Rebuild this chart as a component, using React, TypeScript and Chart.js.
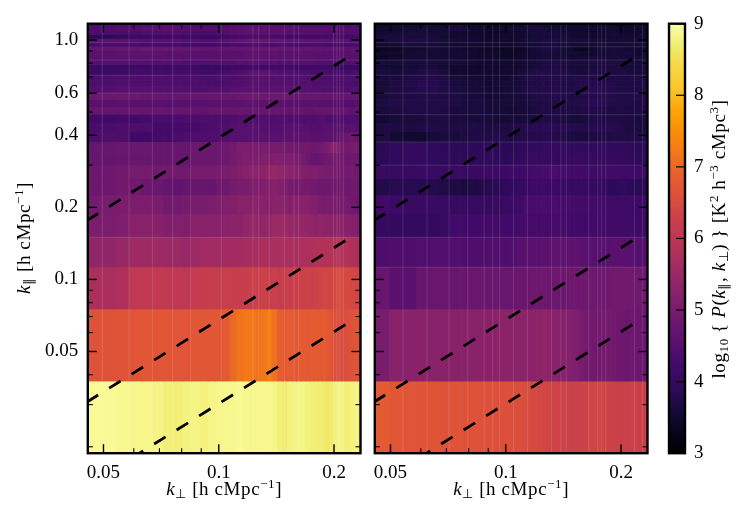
import { useEffect, useRef } from "react";
import { Chart, registerables } from "chart.js";

Chart.register(...registerables);

const SERIF = '"Liberation Serif", serif';

// bin edges
const kPerpEdges = [
  0.0452, 0.0496, 0.054, 0.0584, 0.0628, 0.0672, 0.0716, 0.076, 0.0804, 0.0848, 0.0892,
  0.0936, 0.098, 0.1024, 0.1068, 0.1112, 0.1156, 0.12, 0.1244, 0.1288, 0.1332, 0.1376,
  0.142, 0.1464, 0.1508, 0.1552, 0.1596, 0.164, 0.1684, 0.1728, 0.1772, 0.1816, 0.186,
  0.1904, 0.1948, 0.1992, 0.2036, 0.208, 0.2124, 0.2168, 0.2212, 0.2256, 0.23, 0.2344,
];
const kParEdges = [
  0.01875, 0.0375, 0.075, 0.1125, 0.15, 0.1875, 0.225, 0.2625, 0.3, 0.3375, 0.375, 0.4125,
  0.45, 0.4875, 0.525, 0.5625, 0.6, 0.6375, 0.675, 0.7125, 0.75, 0.7875, 0.825, 0.8625,
  0.9, 0.9375, 0.975, 1.0125, 1.05, 1.0875, 1.125, 1.2,
];

// faint mesh seams that show in each panel
const seamsPerpLeft = [0.0496, 0.0583, 0.0671, 0.0758, 0.0845, 0.1015, 0.1228, 0.1272, 0.1354, 0.1484, 0.1572, 0.1617, 0.1994, 0.2035, 0.2072, 0.2115];
const seamsPerpRight = [0.0539, 0.0623, 0.0711, 0.0796, 0.0878, 0.0925, 0.0964, 0.1048, 0.1139, 0.1317, 0.1392, 0.1439, 0.1648, 0.1739, 0.178, 0.1824, 0.2168, 0.2277];
const seamsParLeft = [0.975, 0.825, 0.7125, 0.6, 0.15];
const seamsParRight = [0.975, 0.9375, 0.825, 0.7125, 0.6, 0.4875, 0.375, 0.3, 0.15, 0.1125];

// log10 power, bottom row first
const powerLeft = [
  [8.92,8.92,8.89,8.87,8.85,8.82,8.75,8.73,8.79,8.81,8.77,8.83,8.85,8.87,8.89,8.91,8.89,8.87,8.87,8.89,8.85,8.83,8.75,8.69,8.77,8.79,8.83,8.81,8.79,8.75,8.71,8.73,8.67,8.63,8.69,8.77,8.81,8.79,8.75,8.73,8.79,8.83,8.81],
  [6.62,6.62,6.65,6.68,6.7,6.72,6.7,6.68,6.68,6.72,6.72,6.72,6.74,6.78,7.0,7.15,7.22,7.2,7.12,7.22,7.25,7.1,6.85,6.8,6.78,6.75,6.78,6.78,6.76,6.78,6.8,6.8,6.82,6.74,6.66,6.58,6.52,6.5,6.55,6.58,6.62,6.65,6.68],
  [5.75,5.75,5.8,6.05,6.1,6.1,6.05,6.02,6.02,6.15,6.18,6.2,6.2,6.22,6.22,6.2,6.22,6.25,6.28,6.3,6.25,6.22,6.18,6.2,6.22,6.25,6.28,6.3,6.32,6.3,6.32,6.35,6.38,6.4,6.4,6.45,6.5,6.5,6.45,6.45,6.42,6.4,6.38],
  [5.35,5.35,5.45,5.55,5.55,5.55,5.52,5.5,5.45,5.55,5.6,5.6,5.6,5.62,5.62,5.62,5.65,5.68,5.7,5.75,5.72,5.72,5.72,5.72,5.72,5.74,5.75,5.78,5.78,5.8,5.82,5.85,5.85,5.88,5.88,5.9,5.88,5.85,5.85,5.82,5.8,5.78,5.75],
  [5.05,5.05,5.1,5.2,5.2,5.2,5.15,5.12,5.15,5.2,5.2,5.22,5.22,5.25,5.28,5.3,5.35,5.42,5.4,5.35,5.42,5.5,5.52,5.5,5.42,5.4,5.42,5.44,5.4,5.35,5.3,5.35,5.32,5.32,5.3,5.3,5.28,5.25,5.2,5.2,5.18,5.18,5.15],
  [4.95,5,5.05,5.05,5.05,5.02,4.9,4.9,4.95,5,5,5.05,5.1,5.15,5.15,5.2,5.2,5.22,5.25,5.2,5.22,5.25,5.25,5.22,5.18,5.22,5.25,5.25,5.2,5.15,5.1,5,4.98,5,5.02,5,4.95,4.95,4.95,4.92,4.9,4.85,4.82],
  [4.85,4.85,4.9,4.9,4.85,4.82,4.7,4.65,4.7,4.75,4.75,4.7,4.85,4.85,4.95,5,5,5.05,5.1,5.1,5.15,5.2,5.15,5.05,4.95,4.9,4.95,4.95,4.95,4.9,4.9,4.85,4.85,4.85,4.9,4.85,4.85,4.9,4.85,4.85,4.9,4.9,4.85],
  [4.85,4.85,4.9,4.95,4.95,4.9,4.9,4.9,4.9,4.95,4.95,4.95,5,5,5.05,5.15,5.2,5.25,5.25,5.3,5.4,5.42,5.35,5.3,5.25,5.2,5.2,5.15,5.1,5.1,5.1,5.05,5,5,5,4.95,4.95,4.9,4.9,4.9,4.95,4.9,4.9],
  [4.7,4.7,4.75,4.75,4.75,4.75,4.75,4.75,4.75,4.8,4.8,4.8,4.8,4.85,4.95,5.05,5.1,5.05,5.05,5.1,5.1,5.1,5.1,5.05,5.1,5.05,5,4.95,4.85,4.75,4.7,4.75,4.85,4.9,4.9,4.95,4.95,4.9,4.85,4.85,4.85,4.85,4.8],
  [4.75,4.75,4.8,4.8,4.8,4.75,4.75,4.75,4.75,4.8,4.8,4.8,4.8,4.85,4.9,5.05,5.05,5,5,5,5,5,4.95,4.95,4.9,4.9,4.9,4.9,4.9,4.85,4.85,4.9,4.95,5.05,5.25,5.3,5.1,4.95,4.9,4.9,4.95,5,4.95],
  [4.35,4.35,4.35,4.15,4.15,4.25,4.25,4.3,4.35,4.35,4.4,4.4,4.4,4.45,4.5,4.5,4.5,4.5,4.55,4.55,4.5,4.5,4.5,4.55,4.55,4.6,4.6,4.6,4.6,4.55,4.55,4.55,4.55,4.55,4.6,4.6,4.65,4.7,4.75,4.8,4.85,4.75,4.7],
  [4.3,4.3,4.35,4.35,4.35,4.25,4.25,4.25,4.25,4.25,4.3,4.35,4.4,4.4,4.45,4.5,4.5,4.5,4.5,4.45,4.45,4.45,4.45,4.5,4.5,4.5,4.5,4.5,4.5,4.45,4.45,4.45,4.5,4.5,4.5,4.5,4.55,4.55,4.5,4.5,4.5,4.5,4.45],
  [4.2,4.2,4.25,4.2,4.25,4.3,4.3,4.3,4.35,4.3,4.35,4.35,4.3,4.35,4.4,4.45,4.45,4.4,4.4,4.4,4.35,4.35,4.4,4.4,4.4,4.4,4.4,4.4,4.4,4.4,4.4,4.45,4.45,4.4,4.4,4.4,4.45,4.4,4.4,4.4,4.4,4.4,4.4],
  [4.7,4.7,4.7,4.75,4.7,4.75,4.7,4.7,4.7,4.65,4.65,4.7,4.7,4.7,4.7,4.75,4.75,4.7,4.7,4.7,4.75,4.7,4.7,4.7,4.65,4.7,4.7,4.7,4.65,4.65,4.7,4.7,4.7,4.7,4.7,4.7,4.65,4.65,4.7,4.65,4.6,4.65,4.6],
  [4.5,4.5,4.55,4.5,4.5,4.55,4.5,4.5,4.5,4.5,4.5,4.5,4.5,4.55,4.55,4.55,4.6,4.6,4.55,4.55,4.6,4.55,4.55,4.55,4.55,4.55,4.55,4.5,4.55,4.55,4.55,4.5,4.5,4.5,4.5,4.5,4.5,4.5,4.45,4.45,4.45,4.5,4.5],
  [4.8,4.8,4.8,4.8,4.75,4.75,4.7,4.7,4.7,4.7,4.7,4.75,4.75,4.75,4.75,4.8,4.85,4.85,4.85,4.85,4.8,4.8,4.85,4.85,4.8,4.75,4.75,4.75,4.75,4.75,4.7,4.7,4.7,4.7,4.7,4.7,4.65,4.65,4.7,4.7,4.7,4.7,4.7],
  [4.45,4.45,4.5,4.5,4.5,4.45,4.45,4.45,4.45,4.4,4.4,4.45,4.45,4.45,4.5,4.55,4.55,4.55,4.55,4.6,4.55,4.55,4.55,4.55,4.55,4.5,4.5,4.5,4.5,4.45,4.45,4.45,4.4,4.4,4.45,4.45,4.45,4.4,4.4,4.4,4.45,4.45,4.4],
  [4.35,4.35,4.4,4.4,4.4,4.4,4.4,4.4,4.35,4.35,4.35,4.3,4.3,4.35,4.4,4.4,4.45,4.5,4.5,4.5,4.5,4.5,4.5,4.45,4.45,4.45,4.45,4.45,4.45,4.45,4.4,4.4,4.4,4.4,4.4,4.35,4.3,4.3,4.35,4.35,4.35,4.3,4.35],
  [4.35,4.35,4.35,4.4,4.4,4.4,4.35,4.35,4.35,4.35,4.3,4.3,4.35,4.35,4.35,4.4,4.45,4.45,4.5,4.5,4.5,4.45,4.45,4.45,4.45,4.45,4.45,4.45,4.4,4.4,4.4,4.35,4.35,4.35,4.35,4.4,4.4,4.35,4.35,4.35,4.35,4.4,4.35],
  [4.1,4.1,4.15,4.25,4.25,4.25,4.2,4.25,4.25,4.25,4.2,4.2,4.25,4.25,4.3,4.35,4.4,4.5,4.6,4.6,4.55,4.45,4.4,4.4,4.4,4.4,4.35,4.35,4.35,4.3,4.3,4.3,4.35,4.3,4.3,4.3,4.3,4.3,4.25,4.25,4.3,4.3,4.25],
  [4.05,4.0,4.0,4.1,4.1,4.1,4.1,4.15,4.15,4.1,4.0,4.0,4.0,4.05,4.1,4.1,4.15,4.2,4.2,4.2,4.2,4.2,4.2,4.2,4.2,4.15,4.15,4.15,4.15,4.15,4.15,4.15,4.15,4.15,4.1,4.1,4.1,4.05,4.05,4.05,4.05,4.05,4.05],
  [4.45,4.45,4.45,4.45,4.45,4.45,4.45,4.45,4.4,4.4,4.4,4.4,4.45,4.45,4.45,4.5,4.5,4.5,4.5,4.5,4.5,4.5,4.45,4.45,4.45,4.5,4.5,4.5,4.5,4.5,4.45,4.45,4.45,4.45,4.45,4.45,4.45,4.4,4.4,4.4,4.45,4.45,4.45],
  [4.55,4.55,4.55,4.55,4.55,4.55,4.5,4.5,4.5,4.5,4.5,4.5,4.5,4.5,4.55,4.55,4.6,4.6,4.6,4.6,4.55,4.55,4.55,4.55,4.55,4.55,4.55,4.55,4.55,4.5,4.5,4.5,4.5,4.5,4.5,4.55,4.55,4.55,4.5,4.5,4.5,4.5,4.5],
  [4.55,4.55,4.6,4.6,4.6,4.6,4.55,4.55,4.55,4.55,4.5,4.5,4.55,4.55,4.55,4.55,4.6,4.6,4.6,4.6,4.6,4.6,4.55,4.55,4.55,4.55,4.6,4.6,4.55,4.55,4.55,4.55,4.5,4.5,4.5,4.5,4.5,4.5,4.55,4.55,4.55,4.5,4.5],
  [4.7,4.7,4.75,4.75,4.8,4.75,4.75,4.75,4.7,4.7,4.65,4.65,4.65,4.65,4.7,4.7,4.7,4.7,4.7,4.75,4.7,4.7,4.7,4.7,4.7,4.7,4.7,4.65,4.65,4.65,4.65,4.65,4.6,4.6,4.6,4.65,4.65,4.65,4.6,4.6,4.65,4.6,4.6],
  [4.3,4.3,4.3,4.3,4.25,4.25,4.25,4.25,4.2,4.2,4.2,4.2,4.25,4.25,4.3,4.3,4.35,4.35,4.35,4.3,4.3,4.3,4.35,4.35,4.3,4.3,4.3,4.3,4.3,4.3,4.3,4.3,4.3,4.25,4.25,4.25,4.25,4.25,4.25,4.3,4.3,4.3,4.3],
  [4.55,4.55,4.55,4.55,4.5,4.5,4.5,4.5,4.45,4.45,4.45,4.45,4.5,4.55,4.6,4.65,4.75,4.8,4.8,4.75,4.7,4.7,4.7,4.65,4.65,4.65,4.65,4.65,4.6,4.6,4.6,4.6,4.6,4.6,4.6,4.6,4.55,4.55,4.55,4.5,4.5,4.5,4.55],
  [3.85,3.85,3.95,4.05,4.1,4.1,4.15,4.15,4.1,4.1,4.05,4.05,4.1,4.15,4.2,4.25,4.3,4.3,4.3,4.3,4.3,4.25,4.25,4.25,4.2,4.2,4.2,4.2,4.2,4.2,4.2,4.2,4.2,4.2,4.25,4.25,4.25,4.2,4.2,4.2,4.2,4.25,4.25],
  [4.35,4.3,4.3,4.3,4.35,4.35,4.4,4.4,4.35,4.3,4.3,4.3,4.35,4.4,4.45,4.5,4.55,4.55,4.55,4.55,4.5,4.5,4.5,4.5,4.45,4.45,4.45,4.45,4.45,4.45,4.45,4.45,4.45,4.4,4.4,4.4,4.4,4.4,4.4,4.4,4.4,4.4,4.4],
  [4.4,4.4,4.45,4.45,4.5,4.5,4.55,4.5,4.5,4.45,4.45,4.45,4.45,4.45,4.5,4.55,4.6,4.6,4.6,4.6,4.55,4.55,4.55,4.55,4.55,4.5,4.5,4.5,4.5,4.5,4.45,4.5,4.5,4.5,4.5,4.45,4.45,4.45,4.45,4.45,4.45,4.45,4.45],
  [4.35,4.35,4.4,4.4,4.45,4.45,4.5,4.5,4.45,4.4,4.4,4.4,4.4,4.4,4.45,4.5,4.5,4.55,4.55,4.55,4.5,4.5,4.5,4.45,4.45,4.45,4.45,4.4,4.4,4.4,4.4,4.4,4.4,4.4,4.4,4.4,4.4,4.35,4.35,4.35,4.4,4.4,4.4],
];
const powerRight = [
  [6.78,6.72,6.68,6.66,6.66,6.64,6.66,6.62,6.62,6.6,6.6,6.58,6.58,6.56,6.54,6.52,6.48,6.44,6.4,6.36,6.34,6.32,6.3,6.3,6.3,6.32,6.34,6.36,6.38,6.38,6.36,6.34,6.32,6.3,6.28,6.26,6.26,6.28,6.3,6.3,6.28,6.26,6.24],
  [5,5.22,5.24,5.26,5.24,5.22,5.22,5.24,5.24,5.26,5.26,5.28,5.28,5.28,5.28,5.28,5.3,5.32,5.34,5.3,5.26,5.2,5.16,5.12,5.08,5.02,4.96,4.92,4.9,4.9,4.92,4.94,4.96,4.9,4.86,4.84,4.82,4.82,4.84,4.84,4.82,4.8,4.8],
  [4.75,4.55,4.55,4.75,4.78,4.78,4.76,4.78,4.78,4.8,4.78,4.78,4.78,4.78,4.8,4.82,4.84,4.84,4.84,4.84,4.82,4.82,4.82,4.84,4.84,4.86,4.86,4.86,4.86,4.84,4.84,4.86,4.88,4.88,4.9,4.9,4.9,4.88,4.86,4.86,4.86,4.84,4.84],
  [4.35,4.4,4.4,4.42,4.42,4.42,4.42,4.4,4.38,4.4,4.42,4.42,4.4,4.42,4.5,4.55,4.55,4.55,4.55,4.58,4.6,4.6,4.58,4.58,4.58,4.55,4.55,4.55,4.52,4.52,4.5,4.52,4.55,4.55,4.55,4.55,4.52,4.52,4.5,4.48,4.46,4.45,4.45],
  [3.98,3.98,3.98,3.98,3.98,4.0,4.2,4.2,4.2,4.22,4.22,4.22,4.2,4.2,4.22,4.25,4.25,4.25,4.25,4.25,4.25,4.25,4.22,4.2,4.2,4.2,4.2,4.2,4.22,4.22,4.2,4.18,4.18,4.18,4.18,4.15,4.15,4.15,4.15,4.15,4.12,4.12,4.12],
  [4.2,4.1,4.05,4.05,4.05,4.05,4.0,4.0,4.0,4.0,4.0,4.05,4.05,4.1,4.15,4.28,4.3,4.3,4.3,4.3,4.28,4.25,4.25,4.25,4.22,4.22,4.22,4.2,4.2,4.2,4.2,4.18,4.15,4.15,4.15,4.15,4.15,4.15,4.15,4.12,4.1,4.1,4.1],
  [3.75,3.8,3.8,3.8,3.78,3.72,3.68,3.65,3.68,3.75,3.8,3.85,3.9,3.95,4.0,4.05,4.1,4.12,4.12,4.1,4.08,4.05,4.02,4.0,4.0,4.0,4.02,4.02,4.0,3.98,3.95,3.9,3.88,3.88,3.9,3.92,3.92,3.88,3.85,3.85,3.85,3.85,3.85],
  [4.0,4.0,4.02,4.05,4.05,4.05,4.05,4.05,4.05,4.1,4.1,4.1,4.1,4.12,4.15,4.2,4.22,4.22,4.25,4.28,4.28,4.25,4.22,4.2,4.2,4.18,4.18,4.15,4.15,4.15,4.15,4.18,4.18,4.18,4.18,4.15,4.15,4.12,4.12,4.1,4.1,4.1,4.1],
  [3.88,3.95,3.98,3.98,3.92,3.9,3.9,3.9,3.9,3.9,3.92,3.92,3.88,3.9,3.95,4.0,4.0,4.02,4.02,4.0,3.98,3.98,4.0,4.02,4.02,4.0,4.0,4.0,4.0,3.98,4.0,4.0,4.0,3.98,3.98,3.98,3.95,3.95,3.95,3.92,3.9,3.9,3.9],
  [3.85,3.95,3.98,3.98,3.9,3.88,3.88,3.88,3.88,3.9,3.9,3.88,3.85,3.85,3.9,3.95,3.95,3.95,4.0,4.0,4.0,3.98,3.95,3.95,3.95,3.95,3.95,3.95,3.98,3.95,3.92,3.92,3.92,3.92,3.92,3.92,3.9,3.9,3.88,3.88,3.85,3.85,3.85],
  [3.68,3.55,3.52,3.5,3.62,3.65,3.65,3.68,3.7,3.72,3.72,3.75,3.72,3.7,3.72,3.75,3.75,3.75,3.78,3.78,3.75,3.72,3.7,3.68,3.65,3.65,3.65,3.68,3.7,3.7,3.72,3.72,3.72,3.75,3.75,3.72,3.72,3.72,3.72,3.7,3.7,3.7,3.7],
  [3.68,3.68,3.7,3.72,3.72,3.7,3.7,3.7,3.72,3.7,3.68,3.68,3.68,3.72,3.75,3.8,3.82,3.82,3.85,3.85,3.82,3.82,3.8,3.78,3.75,3.75,3.75,3.78,3.82,3.82,3.82,3.82,3.8,3.78,3.75,3.72,3.7,3.7,3.7,3.68,3.65,3.65,3.65],
  [3.55,3.6,3.62,3.65,3.68,3.7,3.65,3.62,3.62,3.6,3.6,3.55,3.58,3.62,3.62,3.6,3.65,3.7,3.72,3.72,3.7,3.68,3.65,3.6,3.6,3.62,3.65,3.7,3.72,3.72,3.7,3.72,3.72,3.72,3.72,3.7,3.68,3.68,3.68,3.65,3.65,3.65,3.65],
  [3.65,3.68,3.72,3.72,3.72,3.68,3.65,3.65,3.65,3.65,3.62,3.6,3.58,3.55,3.6,3.62,3.65,3.68,3.72,3.72,3.7,3.7,3.7,3.7,3.7,3.72,3.75,3.75,3.75,3.72,3.72,3.7,3.7,3.7,3.72,3.72,3.7,3.7,3.7,3.7,3.7,3.7,3.68],
  [3.7,3.72,3.75,3.75,3.72,3.72,3.68,3.65,3.65,3.65,3.62,3.6,3.6,3.62,3.62,3.65,3.68,3.7,3.72,3.75,3.75,3.75,3.72,3.72,3.72,3.75,3.78,3.8,3.82,3.82,3.8,3.78,3.75,3.75,3.72,3.72,3.72,3.72,3.7,3.7,3.7,3.72,3.72],
  [3.65,3.68,3.72,3.72,3.72,3.7,3.7,3.65,3.62,3.6,3.55,3.55,3.58,3.6,3.62,3.65,3.7,3.72,3.72,3.75,3.75,3.72,3.72,3.7,3.7,3.72,3.75,3.78,3.78,3.78,3.78,3.75,3.75,3.72,3.72,3.72,3.72,3.72,3.72,3.72,3.72,3.72,3.7],
  [3.62,3.68,3.72,3.78,3.78,3.72,3.65,3.62,3.6,3.58,3.55,3.55,3.58,3.62,3.65,3.7,3.72,3.72,3.75,3.78,3.78,3.75,3.72,3.72,3.72,3.75,3.78,3.8,3.8,3.8,3.78,3.78,3.78,3.75,3.75,3.72,3.72,3.72,3.7,3.7,3.7,3.7,3.7],
  [3.62,3.68,3.75,3.82,3.82,3.72,3.65,3.62,3.6,3.58,3.55,3.58,3.6,3.62,3.65,3.7,3.72,3.72,3.75,3.75,3.75,3.72,3.7,3.7,3.72,3.75,3.78,3.78,3.78,3.78,3.75,3.75,3.75,3.75,3.72,3.72,3.7,3.7,3.7,3.7,3.7,3.7,3.7],
  [3.6,3.65,3.7,3.75,3.75,3.68,3.6,3.58,3.55,3.55,3.5,3.5,3.52,3.58,3.62,3.68,3.72,3.72,3.72,3.75,3.75,3.72,3.7,3.7,3.72,3.72,3.75,3.75,3.75,3.75,3.72,3.72,3.72,3.72,3.72,3.72,3.7,3.7,3.7,3.68,3.68,3.68,3.68],
  [3.65,3.62,3.65,3.7,3.72,3.65,3.5,3.5,3.52,3.5,3.5,3.5,3.5,3.52,3.6,3.65,3.72,3.75,3.72,3.72,3.72,3.72,3.7,3.65,3.62,3.62,3.65,3.68,3.7,3.72,3.75,3.72,3.7,3.7,3.7,3.7,3.68,3.65,3.65,3.62,3.62,3.62,3.62],
  [3.55,3.55,3.6,3.6,3.6,3.55,3.5,3.48,3.48,3.48,3.5,3.5,3.48,3.52,3.55,3.6,3.65,3.65,3.68,3.7,3.7,3.68,3.65,3.62,3.6,3.6,3.6,3.62,3.65,3.68,3.68,3.68,3.68,3.68,3.65,3.65,3.62,3.6,3.6,3.58,3.58,3.58,3.58],
  [3.6,3.6,3.62,3.65,3.65,3.6,3.58,3.58,3.55,3.52,3.52,3.5,3.5,3.52,3.55,3.58,3.62,3.65,3.68,3.7,3.7,3.68,3.65,3.65,3.62,3.62,3.65,3.68,3.7,3.7,3.7,3.7,3.68,3.68,3.68,3.68,3.65,3.65,3.62,3.62,3.62,3.62,3.62],
  [3.42,3.45,3.55,3.58,3.58,3.55,3.55,3.52,3.5,3.5,3.48,3.48,3.45,3.45,3.48,3.52,3.55,3.58,3.6,3.62,3.62,3.6,3.58,3.55,3.55,3.55,3.58,3.6,3.6,3.6,3.6,3.6,3.6,3.6,3.6,3.62,3.62,3.62,3.6,3.6,3.6,3.6,3.6],
  [3.45,3.5,3.55,3.58,3.58,3.55,3.55,3.55,3.5,3.48,3.48,3.48,3.42,3.42,3.45,3.5,3.55,3.58,3.6,3.62,3.62,3.6,3.58,3.55,3.55,3.52,3.5,3.5,3.52,3.55,3.55,3.58,3.6,3.62,3.62,3.6,3.6,3.6,3.58,3.55,3.55,3.55,3.55],
  [3.35,3.4,3.5,3.55,3.58,3.55,3.5,3.48,3.48,3.45,3.45,3.42,3.4,3.42,3.42,3.48,3.55,3.6,3.65,3.68,3.65,3.6,3.55,3.52,3.4,3.38,3.4,3.45,3.5,3.55,3.58,3.62,3.62,3.62,3.6,3.58,3.55,3.55,3.55,3.55,3.55,3.5,3.5],
  [3.5,3.55,3.6,3.62,3.6,3.55,3.55,3.52,3.52,3.5,3.48,3.48,3.45,3.48,3.5,3.55,3.58,3.6,3.62,3.62,3.62,3.6,3.58,3.55,3.55,3.55,3.55,3.55,3.58,3.6,3.6,3.6,3.6,3.6,3.58,3.58,3.58,3.58,3.55,3.55,3.55,3.55,3.55],
  [3.62,3.65,3.68,3.68,3.65,3.6,3.58,3.55,3.55,3.52,3.52,3.5,3.5,3.52,3.55,3.6,3.65,3.65,3.68,3.68,3.68,3.65,3.62,3.6,3.6,3.6,3.6,3.6,3.6,3.6,3.6,3.6,3.6,3.6,3.6,3.6,3.6,3.58,3.58,3.58,3.58,3.58,3.55],
  [3.6,3.6,3.6,3.62,3.62,3.55,3.52,3.5,3.5,3.48,3.45,3.45,3.48,3.5,3.52,3.55,3.58,3.6,3.6,3.6,3.6,3.58,3.58,3.55,3.55,3.55,3.52,3.52,3.52,3.5,3.5,3.52,3.55,3.55,3.55,3.55,3.55,3.55,3.55,3.55,3.55,3.55,3.5],
  [3.55,3.58,3.6,3.6,3.58,3.55,3.52,3.48,3.48,3.48,3.45,3.45,3.48,3.5,3.52,3.55,3.6,3.62,3.62,3.62,3.6,3.58,3.55,3.55,3.55,3.52,3.52,3.52,3.5,3.5,3.52,3.55,3.58,3.58,3.55,3.55,3.52,3.5,3.5,3.5,3.52,3.52,3.5],
  [3.5,3.5,3.58,3.6,3.6,3.58,3.62,3.6,3.55,3.52,3.5,3.5,3.52,3.55,3.58,3.6,3.62,3.62,3.6,3.58,3.58,3.55,3.55,3.52,3.52,3.5,3.5,3.5,3.5,3.5,3.52,3.55,3.55,3.55,3.52,3.5,3.48,3.48,3.48,3.48,3.5,3.5,3.48],
  [3.48,3.5,3.55,3.55,3.58,3.58,3.6,3.58,3.5,3.48,3.45,3.45,3.48,3.5,3.55,3.58,3.6,3.6,3.58,3.55,3.55,3.52,3.5,3.5,3.5,3.48,3.48,3.48,3.48,3.48,3.5,3.5,3.5,3.5,3.48,3.48,3.45,3.45,3.45,3.45,3.48,3.48,3.48],
];

// foreground wedge lines
const wedgeKPerp = [0.0452, 0.2146];
const wedgeUpper = [0.176, 0.837];
const wedgeMiddle = [0.0307, 0.1455];
const wedgeLower = [0.0137, 0.0649];

const xMajor = [0.05, 0.1, 0.2];
const xMinor = [0.06, 0.07, 0.08, 0.09];
const yMajor = [0.05, 0.1, 0.2, 0.4, 0.6, 1.0];
const yMinor = [0.02, 0.03, 0.04, 0.06, 0.07, 0.08, 0.09, 0.3, 0.5, 0.7, 0.8, 0.9];
const xLabels = ["0.05", "0.1", "0.2"];
const yLabels = ["0.05", "0.1", "0.2", "0.4", "0.6", "1.0"];
const cbarTicks = [3, 4, 5, 6, 7, 8, 9];

// inferno, 21 stops
const inferno = [
  [0, 0, 4], [7, 5, 27], [22, 11, 57], [47, 10, 91], [66, 10, 104], [87, 16, 110], [106, 23, 110],
  [127, 30, 108], [147, 38, 103], [168, 46, 95], [188, 55, 84], [203, 65, 73], [221, 81, 58],
  [232, 96, 45], [243, 120, 25], [249, 142, 9], [252, 165, 10], [250, 198, 45], [246, 215, 70],
  [241, 237, 113], [252, 255, 164],
];
const VMIN = 3;
const VMAX = 9;

function colourOf(v: number) {
  const t = Math.min(1, Math.max(0, (v - VMIN) / (VMAX - VMIN))) * (inferno.length - 1);
  const i = Math.min(inferno.length - 2, Math.floor(t));
  const f = t - i;
  const c = inferno[i].map((a, n) => Math.round(a + (inferno[i + 1][n] - a) * f));
  return `rgb(${c[0]},${c[1]},${c[2]})`;
}

type Run = { t: string; size?: number; italic?: boolean; dy?: number };

function runWidth(ctx: CanvasRenderingContext2D, runs: Run[], size: number) {
  let w = 0;
  for (const r of runs) {
    ctx.font = `${r.italic ? "italic " : ""}${r.size ?? size}px ${SERIF}`;
    w += ctx.measureText(r.t).width;
  }
  return w;
}

// centred mixed text, with sub- and superscripts
function drawRuns(ctx: any, runs: Run[], cx: number, cy: number, size: number, rotate: boolean, spacing: number) {
  ctx.save();
  ctx.translate(cx, cy);
  if (rotate) ctx.rotate(-Math.PI / 2);
  ctx.letterSpacing = `${spacing}px`;
  let x = -runWidth(ctx, runs, size) / 2;
  ctx.fillStyle = "#000";
  ctx.textAlign = "left";
  ctx.textBaseline = "alphabetic";
  for (const r of runs) {
    ctx.font = `${r.italic ? "italic " : ""}${r.size ?? size}px ${SERIF}`;
    ctx.fillText(r.t, x, r.dy ?? 0);
    x += ctx.measureText(r.t).width;
  }
  ctx.restore();
}

const kPerpLabel: Run[] = [
  { t: "k", italic: true },
  { t: "⊥", size: 13, dy: 3 },
  { t: " [h cMpc" },
  { t: "−1", size: 13, dy: -7 },
  { t: "]" },
];
const kParLabel: Run[] = [
  { t: "k", italic: true },
  { t: "∥", size: 13, dy: 3 },
  { t: " [h cMpc" },
  { t: "−1", size: 13, dy: -7 },
  { t: "]" },
];
const cbarLabel: Run[] = [
  { t: "log" },
  { t: "10", size: 13, dy: 3 },
  { t: " { " },
  { t: "P", italic: true },
  { t: "(" },
  { t: "k", italic: true },
  { t: "∥", size: 13, dy: 3 },
  { t: ", " },
  { t: "k", italic: true },
  { t: "⊥", size: 13, dy: 3 },
  { t: ") } [K" },
  { t: "2", size: 13, dy: -7 },
  { t: " h" },
  { t: "−3", size: 13, dy: -7 },
  { t: " cMpc" },
  { t: "3", size: 13, dy: -7 },
  { t: "]" },
];

function tickLine(ctx: CanvasRenderingContext2D, x0: number, y0: number, x1: number, y1: number, w: number) {
  ctx.lineWidth = w;
  ctx.beginPath();
  ctx.moveTo(x0, y0);
  ctx.lineTo(x1, y1);
  ctx.stroke();
}

function drawFrame(chart: any) {
  const { ctx, chartArea: a } = chart;
  ctx.save();
  ctx.strokeStyle = "#000";
  ctx.lineWidth = 2.4;
  ctx.strokeRect(a.left, a.top, a.right - a.left, a.bottom - a.top);
  ctx.restore();
}

const heatmapPlugin = {
  id: "heatmap",
  beforeDatasetsDraw(chart: any, _args: any, opts: any) {
    const { ctx, chartArea: a, scales } = chart;
    ctx.save();
    ctx.beginPath();
    ctx.rect(a.left, a.top, a.right - a.left, a.bottom - a.top);
    ctx.clip();
    opts.power.forEach((row: number[], r: number) => {
      const y0 = scales.y.getPixelForValue(kParEdges[r]);
      const y1 = scales.y.getPixelForValue(kParEdges[r + 1]);
      row.forEach((v, c) => {
        const x0 = scales.x.getPixelForValue(kPerpEdges[c]);
        const x1 = scales.x.getPixelForValue(kPerpEdges[c + 1]);
        ctx.fillStyle = colourOf(v);
        // small overlap, the seams are drawn on their own below
        ctx.fillRect(x0, y1 - 0.7, x1 - x0 + 0.7, y0 - y1 + 0.7);
      });
    });
    ctx.strokeStyle = "rgba(255,255,255,0.13)";
    for (const k of opts.seamsPerp) {
      const x = scales.x.getPixelForValue(k);
      tickLine(ctx, x, a.top, x, a.bottom, 1);
    }
    for (const k of opts.seamsPar) {
      const y = scales.y.getPixelForValue(k);
      tickLine(ctx, a.left, y, a.right, y, 1);
    }
    ctx.restore();
  },
  afterDraw(chart: any, _args: any, opts: any) {
    const { ctx, chartArea: a, scales } = chart;
    ctx.save();
    ctx.strokeStyle = "#000";
    for (const [list, len, w] of [[xMajor, 9, 1.4], [xMinor, 5, 1.1]] as any) {
      for (const v of list) {
        const x = scales.x.getPixelForValue(v);
        tickLine(ctx, x, a.bottom, x, a.bottom - len, w);
        tickLine(ctx, x, a.top, x, a.top + len, w);
      }
    }
    for (const [list, len, w] of [[yMajor, 9, 1.4], [yMinor, 5, 1.1]] as any) {
      for (const v of list) {
        const y = scales.y.getPixelForValue(v);
        tickLine(ctx, a.left, y, a.left + len, y, w);
        tickLine(ctx, a.right, y, a.right - len, y, w);
      }
    }
    ctx.restore();
    drawFrame(chart);
    drawRuns(ctx, kPerpLabel, (a.left + a.right) / 2, 495, 19, false, 0.6);
    if (opts.yTitle) drawRuns(ctx, kParLabel, 30, 238, 19, true, 0.6);
  },
};

const colourbarPlugin = {
  id: "colourbar",
  beforeDatasetsDraw(chart: any) {
    const { ctx, chartArea: a, scales } = chart;
    const grad = ctx.createLinearGradient(0, scales.y.getPixelForValue(VMIN), 0, scales.y.getPixelForValue(VMAX));
    inferno.forEach((c, i) => grad.addColorStop(i / (inferno.length - 1), `rgb(${c[0]},${c[1]},${c[2]})`));
    ctx.fillStyle = grad;
    ctx.fillRect(a.left, a.top, a.right - a.left, a.bottom - a.top);
  },
  afterDraw(chart: any) {
    const { ctx, chartArea: a, scales } = chart;
    ctx.save();
    ctx.strokeStyle = "#000";
    for (const v of cbarTicks) {
      const y = scales.y.getPixelForValue(v);
      tickLine(ctx, a.right, y, a.right - 9, y, 1.2);
    }
    ctx.restore();
    drawFrame(chart);
    drawRuns(ctx, cbarLabel, 75, 239, 19, true, 0.6);
  },
};

function wedge(values: number[]) {
  return {
    data: wedgeKPerp.map((x, i) => ({ x, y: values[i] })),
    showLine: true,
    pointRadius: 0,
    borderColor: "#000",
    borderWidth: 2.8,
    borderDash: [13.5, 13],
  };
}

type PanelProps = { power: number[][]; seamsPerp: number[]; seamsPar: number[]; left: number; showY: boolean };

function Panel({ power, seamsPerp, seamsPar, left, showY }: PanelProps) {
  const ref = useRef<HTMLCanvasElement>(null);

  useEffect(() => {
    if (!ref.current) return;
    const chart = new Chart(ref.current, {
      type: "scatter",
      data: { datasets: [wedge(wedgeUpper), wedge(wedgeMiddle), wedge(wedgeLower)] as any },
      plugins: [heatmapPlugin],
      options: {
        responsive: false,
        animation: false,
        layout: { padding: { left: 0, right: 6.5, top: 23.7, bottom: 0 } },
        plugins: {
          legend: { display: false },
          tooltip: { enabled: false },
          heatmap: { power, seamsPerp, seamsPar, yTitle: showY },
        } as any,
        scales: {
          x: {
            type: "logarithmic",
            min: 0.0455,
            max: 0.2345,
            grid: { display: false, drawTicks: false },
            border: { display: false },
            afterBuildTicks: (s: any) => {
              s.ticks = xMajor.map((value) => ({ value }));
            },
            afterFit: (s: any) => {
              s.height = 65.8;
            },
            ticks: {
              autoSkip: false,
              maxRotation: 0,
              padding: 8,
              color: "#000",
              font: { family: SERIF, size: 19 },
              callback: (v: any) => xLabels[xMajor.indexOf(Number(v))] ?? "",
            },
          },
          y: {
            type: "logarithmic",
            min: 0.0188,
            max: 1.17,
            grid: { display: false, drawTicks: false },
            border: { display: false },
            afterBuildTicks: (s: any) => {
              s.ticks = yMajor.map((value) => ({ value }));
            },
            afterFit: (s: any) => {
              s.width = 87.8;
            },
            ticks: {
              display: showY,
              autoSkip: false,
              padding: 9.5,
              color: "#000",
              font: { family: SERIF, size: 19 },
              callback: (v: any) => yLabels[yMajor.indexOf(Number(v))] ?? "",
            },
          },
        },
      },
    });
    return () => chart.destroy();
  }, [power, seamsPerp, seamsPar, showY]);

  return <canvas ref={ref} width={367} height={519} style={{ position: "absolute", left, top: 0 }} />;
}

function Colourbar() {
  const ref = useRef<HTMLCanvasElement>(null);

  useEffect(() => {
    if (!ref.current) return;
    const chart = new Chart(ref.current, {
      type: "scatter",
      data: { datasets: [{ data: [] }] },
      plugins: [colourbarPlugin],
      options: {
        responsive: false,
        animation: false,
        layout: { padding: { left: 19, right: 0, top: 23.7, bottom: 65.8 } },
        plugins: { legend: { display: false }, tooltip: { enabled: false } },
        scales: {
          x: { display: false },
          y: {
            position: "right",
            min: VMIN,
            max: VMAX,
            grid: { display: false, drawTicks: false },
            border: { display: false },
            afterBuildTicks: (s: any) => {
              s.ticks = cbarTicks.map((value) => ({ value }));
            },
            afterFit: (s: any) => {
              s.width = 63;
            },
            ticks: { padding: 9, color: "#000", font: { family: SERIF, size: 19 } },
          },
        },
      },
    });
    return () => chart.destroy();
  }, []);

  return <canvas ref={ref} width={98} height={519} style={{ position: "absolute", left: 650, top: 0 }} />;
}

export default function App() {
  return (
    <div style={{ position: "fixed", left: 0, top: 0, width: 748, height: 519, background: "#fff", overflow: "hidden" }}>
      <Panel power={powerLeft} seamsPerp={seamsPerpLeft} seamsPar={seamsParLeft} left={0} showY />
      <Panel power={powerRight} seamsPerp={seamsPerpRight} seamsPar={seamsParRight} left={287} showY={false} />
      <Colourbar />
    </div>
  );
}
